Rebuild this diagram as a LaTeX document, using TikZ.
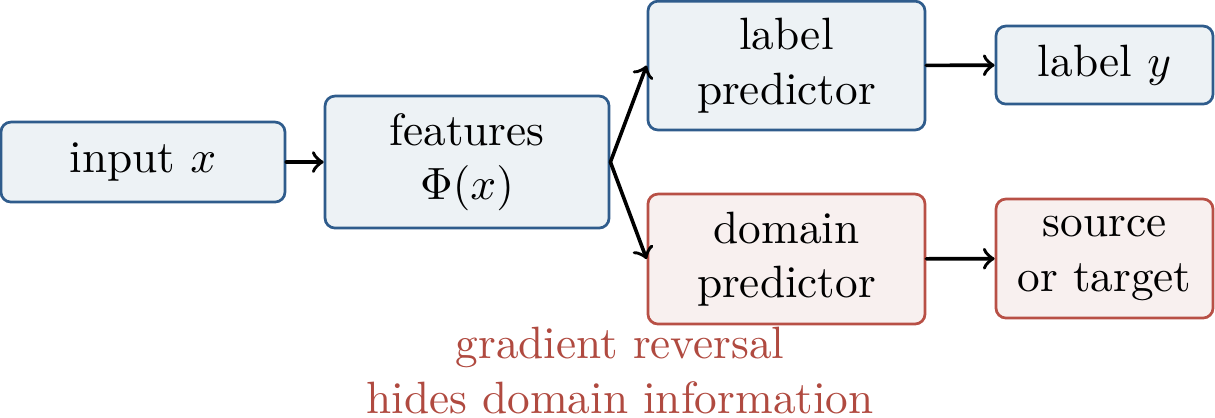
\documentclass[tikz,border=0pt]{standalone}
\usepackage{tikz}

\begin{document}
\begin{tikzpicture}
  [line cap=round,
   % Styles
   box/.style={draw,rounded corners=2.2pt,align=center,semithick,inner sep=2pt},
   blue box/.style={box,draw=boxblue,fill=fillblue},
   red box/.style={box,draw=boxred,fill=fillred},
   flow/.style={->,thick}]

  % Colors
  \definecolor{boxblue}{RGB}{47,92,140}
  \definecolor{fillblue}{RGB}{237,242,245}
  \definecolor{boxred}{RGB}{184,80,70}
  \definecolor{fillred}{RGB}{248,240,239}
  \definecolor{notered}{RGB}{176,74,64}

  \useasboundingbox (0,0) rectangle (9.433,3.238);

  % The graphic
  \node[blue box,minimum width=2.205cm,minimum height=0.621cm] (input) at (1.110,1.980) {input $x$};
  \node[blue box,minimum width=2.205cm,minimum height=1.025cm] (features) at (3.626,1.980) {features\\$\Phi(x)$};
  \node[blue box,minimum width=2.151cm,minimum height=1.0cm] (labelpred) at (6.106,2.729) {label\\predictor};
  \node[blue box,minimum width=1.685cm,minimum height=0.606cm] (labely) at (8.575,2.733) {label $y$};
  \node[red box,minimum width=2.151cm,minimum height=1.009cm] (domainpred) at (6.106,1.227) {domain\\predictor};
  \node[red box,minimum width=1.685cm,minimum height=0.924cm] (domain) at (8.575,1.231) {source\\or target};

  \draw[flow] (input) -- (features);
  \draw[flow] (features.east) -- (labelpred.west);
  \draw[flow] (features.east) -- (domainpred.west);
  \draw[flow] (labelpred) -- (labely);
  \draw[flow] (domainpred) -- (domain);

  \node[align=center,text=notered] (reversal) at (4.814,0.361)
    {gradient reversal\\hides domain information};
\end{tikzpicture}
\end{document}
